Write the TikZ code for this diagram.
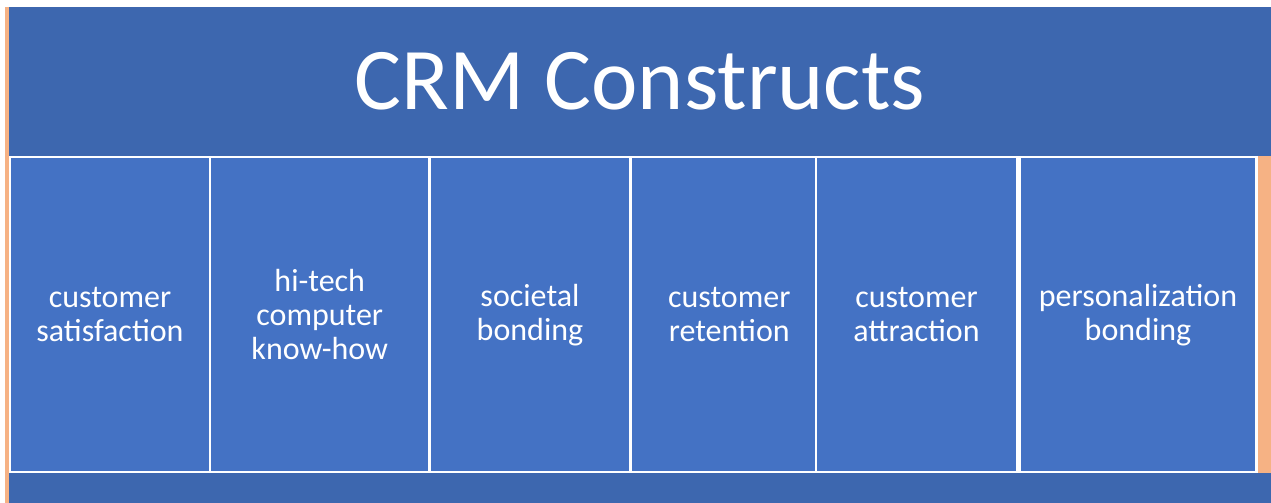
\documentclass[tikz,border=0pt]{standalone}
\usepackage{fontspec}
\setmainfont{Carlito}
\usepackage{tikz}

\definecolor{headblue}{HTML}{3D67AF}
\definecolor{cellblue}{HTML}{4472C4}
\definecolor{edgeorange}{HTML}{F6B284}

\begin{document}
\begin{tikzpicture}[x=0.5pt,y=-0.5pt,
	cell/.style={draw=white,line width=1.2pt,fill=cellblue,text=white,inner sep=0pt,outer sep=0pt,
		minimum height=157.75pt,align=center,font=\fontsize{16}{17}\selectfont}]
	\useasboundingbox (0,0) rectangle (1271,503);
	\fill[edgeorange] (5,7) rectangle (1271,503);
	\fill[white] (9,156) rectangle (1258,473);
	\draw (640,81.5) node (header) [fill=headblue,text=white,inner sep=0pt,outer sep=0pt,minimum width=631pt,minimum height=74.5pt,font=\fontsize{44}{52}\selectfont] {CRM Constructs};
	
	\draw (110,314.75) node (C1) [cell,minimum width=100pt] {customer\\satisfaction};
	\draw (319.75,314.75) node (C2) [cell,minimum width=109.75pt] {hi-tech\\computer\\know-how};
	\draw (530,314.75) node (C3) [cell,minimum width=100.5pt] {societal\\bonding};
	\draw (723.25,314.75) node (C4) [cell,minimum width=92.75pt] {\hspace{6pt}customer\\\hspace{6pt}retention};
	\draw (916.5,314.75) node (C5) [cell,minimum width=100.5pt] {customer\\attraction};
	\draw (1138,314.75) node (C6) [cell,minimum width=118.5pt] {personalization\\bonding};
	
	% bottom band laid over the lower cell edges
	\draw (640,488) node (footer) [fill=headblue,inner sep=0pt,outer sep=0pt,minimum width=631pt,minimum height=15pt] {};
\end{tikzpicture}
\end{document}
